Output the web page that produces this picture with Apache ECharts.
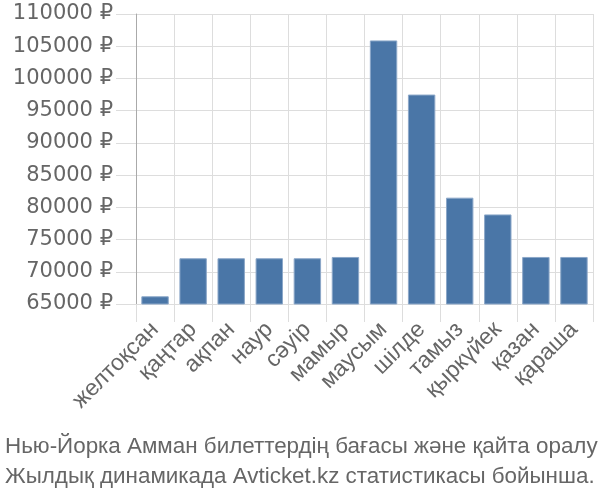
<!DOCTYPE html>
<html>
<head>
<meta charset="utf-8">
<script src="https://cdn.jsdelivr.net/npm/echarts@6/dist/echarts.min.js"></script>
<style>
  html, body { margin: 0; padding: 0; background: #fff; }
  #chart { width: 600px; height: 500px; }
</style>
</head>
<body>
<div id="chart"></div>
<script>
var months = ['желтоқсан', 'қаңтар', 'ақпан', 'наур', 'сәуір', 'мамыр',
              'маусым', 'шілде', 'тамыз', 'қыркүйек', 'қазан', 'қараша'];
var prices = [66200, 72100, 72100, 72100, 72100, 72300,
              105900, 97500, 81500, 78900, 72300, 72300];
var titleLines = ['Нью-Йорка Амман билеттердің бағасы және қайта оралу',
                  'Жылдық динамикада Avticket.kz статистикасы бойынша.'];

var gridColor = '#dddddd';
var textColor = '#666666';
var barColor = '#4a76a7';
var fontName = '"Liberation Sans", Arial, sans-serif';

var chart = echarts.init(document.getElementById('chart'));

var option = {
    animation: false,
    title: {
        text: titleLines.join('\n'),
        left: 0,
        top: 427,
        textStyle: {
            color: textColor,
            fontSize: 22.4,
            fontWeight: 'normal',
            fontFamily: fontName,
            lineHeight: 30
        }
    },
    grid: {
        left: 136,
        right: 7,
        top: 14,
        bottom: 196
    },
    xAxis: {
        type: 'category',
        data: months,
        axisLine: { show: true, lineStyle: { color: gridColor } },
        axisTick: { show: true, length: 18, lineStyle: { color: gridColor } },
        splitLine: { show: true, lineStyle: { color: gridColor } },
        axisLabel: {
            rotate: 45,
            margin: 22,
            color: textColor,
            fontSize: 23,
            fontFamily: fontName,
            interval: 0
        }
    },
    yAxis: {
        type: 'value',
        min: 65000,
        max: 110000,
        interval: 5000,
        axisLine: { show: true, lineStyle: { color: '#aaaaaa' } },
        axisTick: { show: true, length: 20, lineStyle: { color: gridColor } },
        splitLine: { show: true, lineStyle: { color: gridColor } },
        axisLabel: {
            margin: 23,
            color: textColor,
            fontSize: 21,
            fontFamily: '"DejaVu Sans", sans-serif',
            formatter: function (v) { return v + ' ₽'; }
        }
    },
    series: [{
        type: 'bar',
        data: prices,
        barCategoryGap: '28%',
        itemStyle: {
            color: barColor,
            borderColor: '#8ca8c9',
            borderWidth: 1
        }
    }]
};
chart.setOption(option);
</script>
</body>
</html>
